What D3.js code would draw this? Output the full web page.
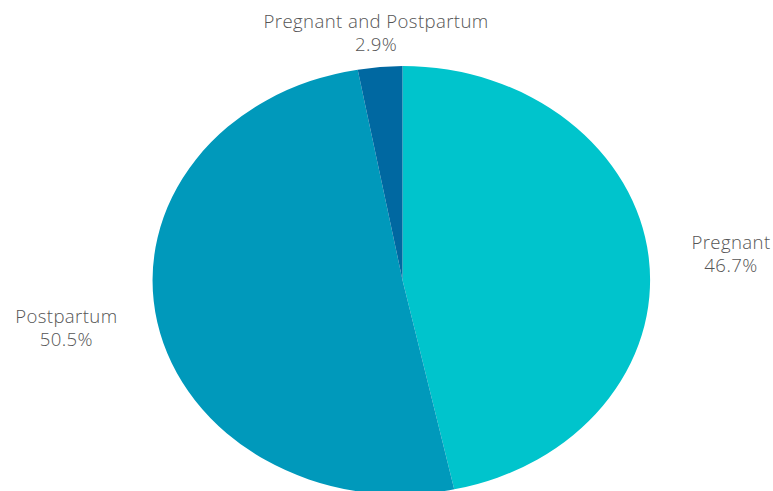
<!DOCTYPE html>
<meta charset="utf-8">
<style type="text/css">
  body { margin: 0; background: #fff; }
  .label text {
    font-family: "Open Sans", sans-serif;
    font-size: 18.6px;
    font-weight: 300;
    letter-spacing: 0.4px;
    fill: #555;
  }
</style>
<body>
</body>
<script src="https://d3js.org/d3.v7.min.js"></script>
<script>
  // slices, in drawing order (clockwise from 12 o'clock)
  var categories = ["Pregnant", "Postpartum", "Pregnant and Postpartum"];
  var values = [46.7, 50.5, 2.9];
  var colors = ["#00c4cc", "#0099bb", "#0068a1"];

  var width = 773, height = 491;
  var cx = 402.5, cy = 280, rx = 247.5, ry = 214;

  var svg = d3.select("body").append("svg")
    .attr("width", width)
    .attr("height", height);

  var pie = d3.pie().sort(null).value(function(d) { return d.value; });
  var data = categories.map(function(c, i) {
    return { name: c, value: values[i], color: colors[i] };
  });
  var arcs = pie(data);

  // unit circle pie stretched into an ellipse
  var arc = d3.arc().innerRadius(0).outerRadius(1);

  svg.append("g")
    .attr("transform", "translate(" + cx + "," + cy + ") scale(" + rx + "," + ry + ")")
    .selectAll("path")
    .data(arcs)
    .enter().append("path")
    .attr("d", arc)
    .attr("fill", function(d) { return d.data.color; });

  // labels outside each slice
  var gapX = 43, gapY = 16, lineH = 23;
  var labels = svg.selectAll(".label")
    .data(arcs)
    .enter().append("g")
    .attr("class", "label");

  labels.each(function(d) {
    var g = d3.select(this);
    var t1 = g.append("text").attr("text-anchor", "middle").text(d.data.name);
    var t2 = g.append("text").attr("text-anchor", "middle").text(d.data.value.toFixed(1) + "%");
    var w = Math.max(t1.node().getComputedTextLength(), t2.node().getComputedTextLength());
    var h = 36;
    var a = (d.startAngle + d.endAngle) / 2;
    var s = Math.sin(a), c = -Math.cos(a);
    var x = cx + s * (rx + gapX);
    if (s > 0.5) x += w / 2;
    else if (s < -0.5) x -= w / 2;
    var y = cy + c * (ry + gapY) + c * h / 2;
    t1.attr("x", x).attr("y", y - h / 2 + 13);
    t2.attr("x", x).attr("y", y - h / 2 + 13 + lineH);
  });
</script>
